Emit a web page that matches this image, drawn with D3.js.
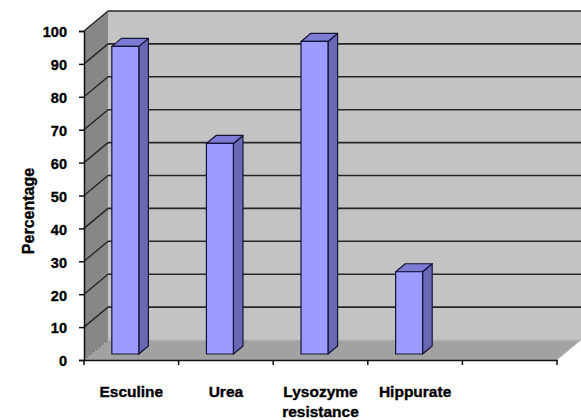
<!DOCTYPE html>
<html>
<head>
<meta charset="utf-8">
<script src="https://cdn.jsdelivr.net/npm/d3@7"></script>
<style>
  html, body { margin: 0; padding: 0; background: #ffffff; }
  svg { display: block; }
  text { font-family: "Liberation Sans", Arial, Helvetica, sans-serif; font-weight: bold; fill: #000; stroke: #000; stroke-width: 0.35px; }
</style>
</head>
<body>
<svg id="chart" width="581" height="420"></svg>
<script>
// ---- data ----
const categories = ["Esculine", "Urea", "Lysozyme resistance", "Hippurate", ""];
const categoryLines = [["Esculine"], ["Urea"], ["Lysozyme", "resistance"], ["Hippurate"], []];
const values = [93.5, 64, 95, 25];
const yTicks = [0, 10, 20, 30, 40, 50, 60, 70, 80, 90, 100];
const yTitle = "Percentage";

// ---- layout ----
const svg = d3.select("#chart");
const depth = { dx: 24, dy: -20 };          // full depth of the 3-D box
const x = d3.scaleBand().domain(categories).range([84, 557]).padding(0);
const y = d3.scaleLinear().domain([0, 100]).range([360, 31]);
const bw = x.bandwidth();

const P = (px, py, f) => [px + depth.dx * f, py + depth.dy * f];
const line = d3.line();

const x0 = x.range()[0], x1 = x.range()[1];
const yTop = y(100), yBot = y(0);

// back wall
svg.append("path")
  .attr("d", line([P(x0, yTop, 1), P(x1, yTop, 1), P(x1, yBot, 1), P(x0, yBot, 1)]) + "Z")
  .attr("fill", "#c3c3c3").attr("stroke", "none");
// left wall
svg.append("path")
  .attr("d", line([P(x0, yTop, 0), P(x0, yTop, 1), P(x0, yBot, 1), P(x0, yBot, 0)]) + "Z")
  .attr("fill", "#878787").attr("stroke", "none");
// floor
svg.append("path")
  .attr("d", line([P(x0, yBot, 0), P(x0, yBot, 1), P(x1, yBot, 1), P(x1, yBot, 0)]) + "Z")
  .attr("fill", "#a2a2a2").attr("stroke", "none");
// floor back edge highlight
svg.append("path")
  .attr("d", line([P(x0, yBot, 1), P(x1, yBot, 1)]))
  .attr("stroke", "#b8b8b8").attr("stroke-width", 1.5).attr("fill", "none");
// floor right edge
svg.append("path")
  .attr("d", line([P(x1, yBot, 0), P(x1, yBot, 1)]))
  .attr("stroke", "#c8c8c8").attr("stroke-width", 1).attr("fill", "none");

// gridlines (back wall + left wall)
const gridTicks = yTicks.filter(t => t > 0);
svg.append("g").selectAll("path.gb").data(gridTicks).join("path")
  .attr("d", t => line([P(x0, y(t), 1), P(x1, y(t), 1)]))
  .attr("stroke", "#262626").attr("stroke-width", 1.6).attr("fill", "none");
svg.append("g").selectAll("path.gl").data(gridTicks).join("path")
  .attr("d", t => line([P(x0, y(t), 0), P(x0, y(t), 1)]))
  .attr("stroke", "#262626").attr("stroke-width", 1.4).attr("fill", "none");
// dashed bottom edge of left wall
svg.append("path")
  .attr("d", line([P(x0, yBot, 0), P(x0, yBot, 1)]))
  .attr("stroke", "#555").attr("stroke-width", 1).attr("stroke-dasharray", "2,2").attr("fill", "none");

// bars
const fFront = 0.3, fBack = 0.7;
const barOff = bw * 0.218, barW = bw * 0.285;
const bars = svg.append("g").selectAll("g").data(values).join("g");
bars.each(function(v, i) {
  const g = d3.select(this);
  const bx0 = x(categories[i]) + barOff, bx1 = bx0 + barW;
  const yt = y(v), yb = y(0);
  const front = [P(bx0, yt, fFront), P(bx1, yt, fFront), P(bx1, yb, fFront), P(bx0, yb, fFront)];
  const side = [P(bx1, yt, fFront), P(bx1, yt, fBack), P(bx1, yb, fBack), P(bx1, yb, fFront)];
  const top = [P(bx0, yt, fFront), P(bx0, yt, fBack), P(bx1, yt, fBack), P(bx1, yt, fFront)];
  g.append("path").attr("d", line(side) + "Z").attr("fill", "#6868b4").attr("stroke", "#14143a").attr("stroke-width", 1.2).attr("stroke-linejoin", "round");
  g.append("path").attr("d", line(top) + "Z").attr("fill", "#7c7cd4").attr("stroke", "#14143a").attr("stroke-width", 1.2).attr("stroke-linejoin", "round");
  g.append("path").attr("d", line(front) + "Z").attr("fill", "#9c9cff").attr("stroke", "#14143a").attr("stroke-width", 1.2).attr("stroke-linejoin", "round");
});

// y axis
const yAxis = d3.axisLeft(y).tickValues(yTicks).tickSize(5).tickPadding(12).tickFormat(d3.format("d"));
const gy = svg.append("g").attr("transform", `translate(${x0},0)`).call(yAxis);
gy.select(".domain").attr("stroke", "#111").attr("stroke-width", 1.5);
gy.selectAll(".tick line").attr("stroke", "#111").attr("stroke-width", 1.5);
gy.selectAll(".tick text").attr("font-size", 14.5).attr("font-weight", "bold")
  .attr("font-family", '"Liberation Sans", Arial, sans-serif').attr("dy", "0.4em").attr("fill", "#000");

// x axis
const xAxis = d3.axisBottom(x).tickSize(0).tickFormat("");
const gx = svg.append("g").attr("transform", `translate(0,${yBot})`).call(xAxis);
gx.select(".domain").attr("stroke", "#111").attr("stroke-width", 1.5);
gx.selectAll(".tick").remove();
// category boundary ticks
const bounds = categories.map(c => x(c)).concat([x1]);
svg.append("g").selectAll("line").data(bounds).join("line")
  .attr("x1", d => d).attr("x2", d => d).attr("y1", yBot).attr("y2", yBot + 5)
  .attr("stroke", "#111").attr("stroke-width", 1.5);
// category labels
const lbl = svg.append("g").selectAll("text").data(categoryLines).join("text")
  .attr("text-anchor", "middle").attr("font-size", 15.5)
  .attr("x", (d, i) => x(categories[i]) + bw / 2)
  .attr("y", 397);
lbl.selectAll("tspan").data(d => d).join("tspan")
  .attr("x", function() { return d3.select(this.parentNode).attr("x"); })
  .attr("dy", (d, j) => j === 0 ? 0 : 20)
  .text(d => d);

// y title
svg.append("text")
  .attr("transform", "translate(34,211) rotate(-90)")
  .attr("text-anchor", "middle").attr("font-size", 16)
  .text(yTitle);
</script>
</body>
</html>
